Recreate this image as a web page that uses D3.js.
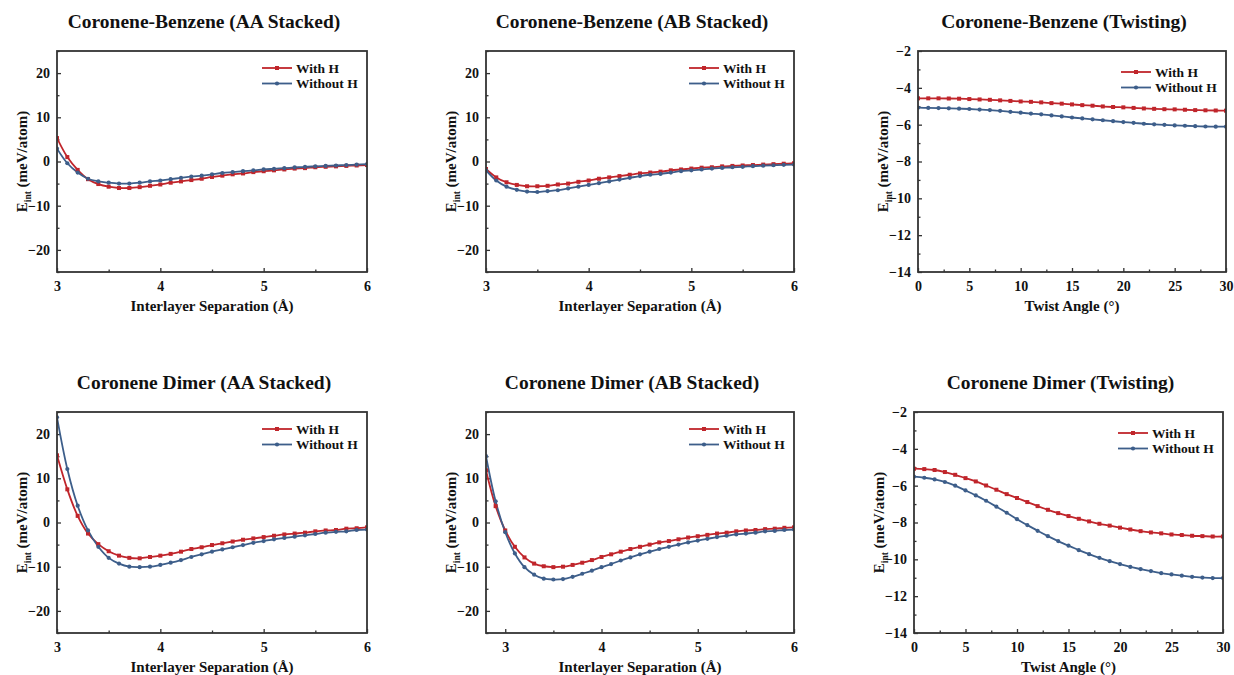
<!DOCTYPE html>
<html>
<head>
<meta charset="utf-8">
<script src="https://cdn.jsdelivr.net/npm/d3@7"></script>
<style>
  html,body{margin:0;padding:0;background:#fff}
  svg text{font-family:"Liberation Serif","Times New Roman",serif;font-weight:bold;fill:#111}
</style>
</head>
<body>
<svg id="chart" width="1234" height="675"></svg>
<script>
// x values
const sepX = [3.0,3.1,3.2,3.3,3.4,3.5,3.6,3.7,3.8,3.9,4.0,4.1,4.2,4.3,4.4,4.5,4.6,4.7,4.8,4.9,5.0,5.1,5.2,5.3,5.4,5.5,5.6,5.7,5.8,5.9,6.0]
const sepXwide = [2.8,2.9].concat(sepX)
const angleX = [0,1,2,3,4,5,6,7,8,9,10,11,12,13,14,15,16,17,18,19,20,21,22,23,24,25,26,27,28,29,30]

// Coronene-Benzene AA
const cbAAwith = [5.3,1.0,-1.9,-4.0,-5.1,-5.7,-6.0,-6.0,-5.8,-5.5,-5.2,-4.8,-4.5,-4.2,-3.9,-3.5,-3.2,-2.9,-2.7,-2.4,-2.2,-2.0,-1.8,-1.6,-1.5,-1.3,-1.2,-1.1,-1.0,-0.9,-0.8]
const cbAAwithout = [2.9,-0.4,-2.5,-3.9,-4.5,-4.8,-5.0,-5.0,-4.8,-4.5,-4.3,-4.0,-3.7,-3.4,-3.2,-2.9,-2.6,-2.4,-2.2,-2.0,-1.8,-1.65,-1.5,-1.35,-1.2,-1.1,-1.0,-0.9,-0.8,-0.7,-0.6]
// Coronene-Benzene AB
const cbABwith = [-1.7,-3.6,-4.7,-5.3,-5.6,-5.6,-5.5,-5.2,-5.0,-4.6,-4.3,-3.9,-3.6,-3.3,-3.0,-2.7,-2.5,-2.3,-2.0,-1.8,-1.6,-1.4,-1.3,-1.1,-1.0,-0.9,-0.8,-0.7,-0.6,-0.5,-0.4]
const cbABwithout = [-2.0,-4.3,-5.7,-6.4,-6.8,-6.9,-6.7,-6.5,-6.1,-5.7,-5.3,-4.9,-4.5,-4.1,-3.7,-3.3,-3.0,-2.8,-2.5,-2.2,-2.0,-1.8,-1.6,-1.45,-1.3,-1.2,-1.05,-0.95,-0.85,-0.75,-0.7]
// Coronene-Benzene twisting
const cbTwWith = [-4.57,-4.57,-4.57,-4.58,-4.59,-4.61,-4.63,-4.65,-4.68,-4.71,-4.74,-4.76,-4.79,-4.83,-4.86,-4.90,-4.94,-4.97,-5.01,-5.04,-5.06,-5.09,-5.12,-5.14,-5.16,-5.17,-5.19,-5.21,-5.22,-5.23,-5.24]
const cbTwWithout = [-5.08,-5.09,-5.10,-5.11,-5.13,-5.15,-5.18,-5.21,-5.25,-5.30,-5.35,-5.40,-5.44,-5.50,-5.55,-5.61,-5.66,-5.71,-5.76,-5.81,-5.86,-5.90,-5.95,-5.98,-6.01,-6.04,-6.06,-6.08,-6.10,-6.11,-6.11]
// Coronene dimer AA
const cdAAwith = [15.2,7.5,1.5,-2.5,-4.9,-6.5,-7.5,-8.0,-8.1,-7.8,-7.5,-7.1,-6.6,-6.0,-5.6,-5.1,-4.7,-4.3,-3.9,-3.6,-3.3,-3.0,-2.7,-2.5,-2.3,-2.0,-1.8,-1.7,-1.4,-1.3,-1.1]
const cdAAwithout = [23.8,12.1,3.8,-1.8,-5.5,-8.0,-9.3,-10.0,-10.1,-10.0,-9.6,-9.1,-8.5,-7.8,-7.2,-6.6,-6.1,-5.6,-5.1,-4.6,-4.2,-3.8,-3.5,-3.2,-2.9,-2.6,-2.3,-2.1,-2.0,-1.7,-1.6]
// Coronene dimer AB (starts at 2.8)
const cdABwith = [11.8,3.7,-1.8,-5.5,-7.9,-9.3,-9.9,-10.1,-10.0,-9.6,-9.1,-8.5,-7.8,-7.2,-6.6,-6.0,-5.5,-5.0,-4.5,-4.2,-3.8,-3.4,-3.1,-2.8,-2.5,-2.3,-2.0,-1.8,-1.7,-1.5,-1.4,-1.2,-1.1]
const cdABwithout = [15.0,4.8,-2.2,-7.0,-10.1,-11.8,-12.7,-12.9,-12.8,-12.3,-11.6,-10.9,-10.1,-9.4,-8.6,-7.9,-7.2,-6.6,-6.0,-5.5,-5.0,-4.5,-4.1,-3.7,-3.3,-3.0,-2.7,-2.5,-2.3,-2.0,-1.9,-1.7,-1.6]
// Coronene dimer twisting
const cdTwWith = [-5.08,-5.10,-5.15,-5.26,-5.41,-5.59,-5.77,-5.99,-6.22,-6.46,-6.67,-6.89,-7.11,-7.31,-7.49,-7.65,-7.80,-7.94,-8.07,-8.17,-8.28,-8.38,-8.47,-8.54,-8.59,-8.65,-8.68,-8.72,-8.74,-8.76,-8.76]
const cdTwWithout = [-5.51,-5.57,-5.66,-5.80,-6.00,-6.26,-6.53,-6.82,-7.14,-7.47,-7.82,-8.14,-8.45,-8.74,-9.01,-9.26,-9.50,-9.72,-9.92,-10.10,-10.26,-10.41,-10.53,-10.64,-10.75,-10.82,-10.89,-10.95,-10.99,-11.02,-11.02]

const seriesNames = ['With H','Without H']
const sepTicks = [3,4,5,6]
const angleTicks = [0,5,10,15,20,25,30]
const sepYTicks = [-20,-10,0,10,20]
const angleYTicks = [-14,-12,-10,-8,-6,-4,-2]

const RED = '#c0252b', BLUE = '#3d5e8a', FRAME = '#333'
const FONT = '"Liberation Serif","Times New Roman",serif'

const panels = [
  {title:'Coronene-Benzene (AA Stacked)', x:sepX, a:cbAAwith, b:cbAAwithout, xd:[3,6], yd:[-25,25], xt:sepTicks, xm:0.5, yt:sepYTicks, ym:5, xl:'Interlayer Separation (Å)', box:[57,367,51,272], leg:17},
  {title:'Coronene-Benzene (AB Stacked)', x:sepX, a:cbABwith, b:cbABwithout, xd:[3,6], yd:[-25,25], xt:sepTicks, xm:0.5, yt:sepYTicks, ym:5, xl:'Interlayer Separation (Å)', box:[486,794,51,272], leg:17},
  {title:'Coronene-Benzene (Twisting)', x:angleX, a:cbTwWith, b:cbTwWithout, xd:[0,30], yd:[-14,-2], xt:angleTicks, xm:2.5, yt:angleYTicks, ym:1, xl:'Twist Angle (°)', box:[918,1226,51,272], leg:21},
  {title:'Coronene Dimer (AA Stacked)', x:sepX, a:cdAAwith, b:cdAAwithout, xd:[3,6], yd:[-25,25], xt:sepTicks, xm:0.5, yt:sepYTicks, ym:5, xl:'Interlayer Separation (Å)', box:[57,367,412,633], leg:17},
  {title:'Coronene Dimer (AB Stacked)', x:sepXwide, a:cdABwith, b:cdABwithout, xd:[2.8,6], yd:[-25,25], xt:sepTicks, xm:0.5, yt:sepYTicks, ym:5, xl:'Interlayer Separation (Å)', box:[486,794,412,633], leg:17},
  {title:'Coronene Dimer (Twisting)', x:angleX, a:cdTwWith, b:cdTwWithout, xd:[0,30], yd:[-14,-2], xt:angleTicks, xm:2.5, yt:angleYTicks, ym:1, xl:'Twist Angle (°)', box:[914,1223,412,633], leg:21}
]

const svg = d3.select('#chart')

panels.forEach(p=>{
  const [l,r,t,b] = p.box
  const g = svg.append('g')
  const x = d3.scaleLinear().domain(p.xd).range([l,r])
  const y = d3.scaleLinear().domain(p.yd).range([b,t])

  // minor ticks
  const xMinor = d3.range(Math.ceil(p.xd[0]/p.xm)*p.xm, p.xd[1]+1e-9, p.xm).filter(v=>!p.xt.some(k=>Math.abs(k-v)<1e-6))
  const yMinor = d3.range(Math.ceil(p.yd[0]/p.ym)*p.ym, p.yd[1]+1e-9, p.ym).filter(v=>!p.yt.some(k=>Math.abs(k-v)<1e-6))

  const xAxis = g.append('g').attr('transform',`translate(0,${b})`)
    .call(d3.axisBottom(x).tickValues(p.xt).tickSize(-4).tickPadding(9).tickFormat(d3.format('d')))
  xAxis.append('g').call(d3.axisBottom(x).tickValues(xMinor).tickSize(-2.5).tickFormat(''))
  const yAxis = g.append('g').attr('transform',`translate(${l},0)`)
    .call(d3.axisLeft(y).tickValues(p.yt).tickSize(-4).tickPadding(7).tickFormat(d3.format('d')))
  yAxis.append('g').call(d3.axisLeft(y).tickValues(yMinor).tickSize(-2.5).tickFormat(''))
  g.selectAll('.domain').remove()
  g.selectAll('[font-family]').attr('font-family',FONT)
  g.selectAll('.tick line').attr('stroke',FRAME).attr('stroke-width',1.3)
  g.selectAll('.tick text').style('font-size','14px').attr('fill','#111')

  // lines
  const clip = 'clip'+l+'_'+t
  g.append('clipPath').attr('id',clip).append('rect').attr('x',l).attr('y',t).attr('width',r-l).attr('height',b-t)
  const line = d3.line().x(d=>x(d[0])).y(d=>y(d[1])).curve(d3.curveCatmullRom.alpha(0.5))
  const plot = g.append('g').attr('clip-path',`url(#${clip})`)
  const dataA = p.x.map((v,i)=>[v,p.a[i]])
  const dataB = p.x.map((v,i)=>[v,p.b[i]])
  plot.append('path').datum(dataA).attr('d',line).attr('fill','none').attr('stroke',RED).attr('stroke-width',1.8)
  plot.append('path').datum(dataB).attr('d',line).attr('fill','none').attr('stroke',BLUE).attr('stroke-width',1.8)
  plot.selectAll('.sq').data(dataA).enter().append('rect')
    .attr('x',d=>x(d[0])-2).attr('y',d=>y(d[1])-2).attr('width',4).attr('height',4).attr('fill',RED)
  plot.selectAll('.ci').data(dataB).enter().append('circle')
    .attr('cx',d=>x(d[0])).attr('cy',d=>y(d[1])).attr('r',2.1).attr('fill',BLUE)

  // frame
  g.append('rect').attr('x',l).attr('y',t).attr('width',r-l).attr('height',b-t)
    .attr('fill','none').attr('stroke',FRAME).attr('stroke-width',1.8)

  // legend
  const lx = r-105
  ;[[RED,'sq'],[BLUE,'ci']].forEach(([c,m],i)=>{
    const ly = t+p.leg+i*15.5
    g.append('line').attr('x1',lx).attr('x2',lx+30).attr('y1',ly).attr('y2',ly).attr('stroke',c).attr('stroke-width',1.8)
    if(m==='sq') g.append('rect').attr('x',lx+13).attr('y',ly-2).attr('width',4).attr('height',4).attr('fill',c)
    else g.append('circle').attr('cx',lx+15).attr('cy',ly).attr('r',2.1).attr('fill',c)
    g.append('text').attr('x',lx+34).attr('y',ly+4.5).style('font-size','13.5px').text(seriesNames[i])
  })

  // title
  g.append('text').attr('x',(l+r)/2-8).attr('y',t-23).attr('text-anchor','middle').style('font-size','19.5px').text(p.title)
  // x label
  g.append('text').attr('x',(l+r)/2).attr('y',b+39).attr('text-anchor','middle').style('font-size','15px').text(p.xl)
  // y label
  const yl = g.append('text').attr('transform',`translate(${l-30},${(t+b)/2}) rotate(-90)`).attr('text-anchor','middle').style('font-size','15px')
  yl.append('tspan').text('E')
  yl.append('tspan').attr('dy',4).style('font-size','9.5px').text('int')
  yl.append('tspan').attr('dy',-4).text(' (meV/atom)')
})
</script>
</body>
</html>
